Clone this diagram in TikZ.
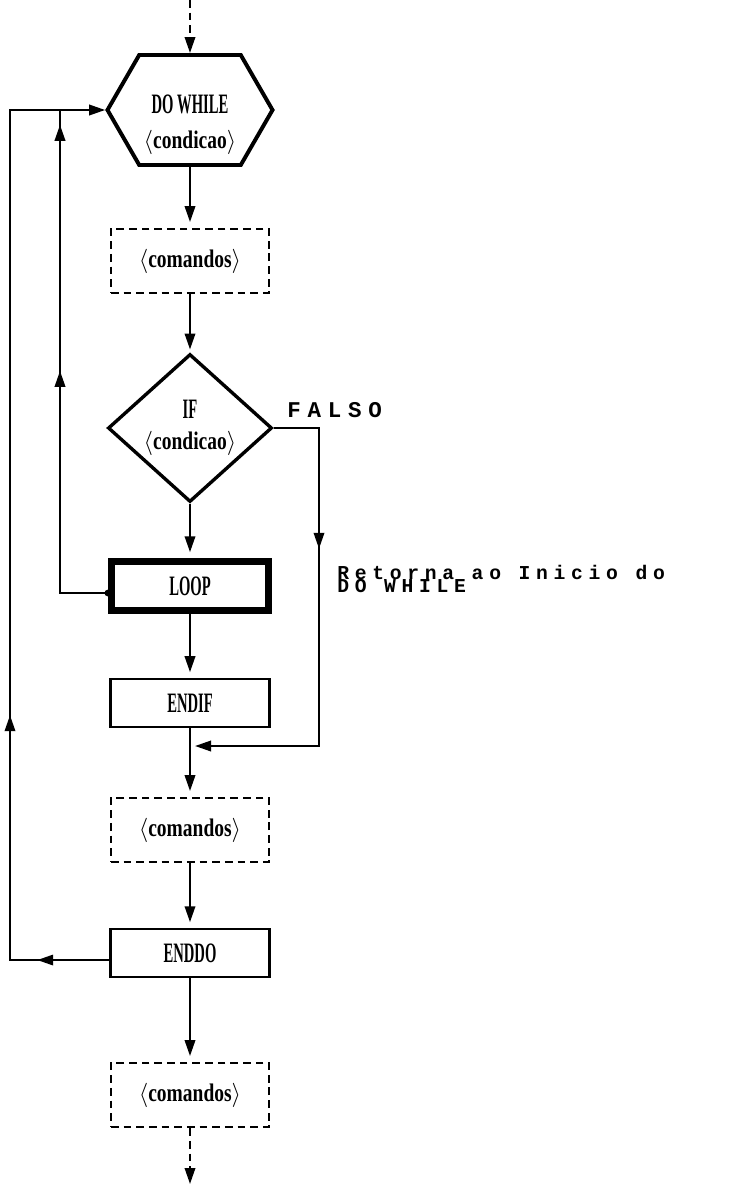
\documentclass[tikz,border=0pt]{standalone}
\usepackage{fontspec}
\usetikzlibrary{arrows.meta,positioning,shapes.geometric,shapes.symbols,decorations.markings}
\newfontfamily\capsfont[FakeStretch=0.52]{Liberation Serif}
\newfontfamily\lowfont[FakeStretch=0.77]{Liberation Serif}
\newfontfamily\dotfont{Liberation Mono}
\tikzset{
    flow/.style={line width=1.6pt},
    arrow/.style={-{Triangle[length=4mm,width=2.6mm]},line width=1.6pt},
    gaparrow/.style={arrow,shorten >=4pt},
    midarrow/.style={postaction={decorate,decoration={markings,mark=at position #1 with {\arrow{Triangle[length=4mm,width=2.6mm]}}}}},
    dashline/.style={dash pattern=on 5.5pt off 3.5pt},
    cmdbox/.style={draw,dashline,line width=1.8pt,minimum width=3.95cm,minimum height=1.6cm,inner sep=0pt,font=\lowfont\bfseries\fontsize{18}{22}\selectfont},
    endbox/.style={draw,line width=1.6pt,minimum width=3.98cm,minimum height=1.2cm,inner sep=0pt,font=\capsfont\bfseries\fontsize{20}{22}\selectfont},
    loopbox/.style={endbox,line width=5pt,minimum width=3.93cm,minimum height=1.23cm},
    hexbox/.style={signal,signal to=east and west,signal pointer angle=120,draw,line width=2.8pt,minimum width=4.125cm,minimum height=2.75cm,inner sep=0pt,align=center,font=\bfseries\fontsize{20}{25}\selectfont},
    ifbox/.style={diamond,draw,line width=2.4pt,minimum width=4.1cm,minimum height=3.5cm,inner sep=0pt,align=center,font=\bfseries\fontsize{20}{22}\selectfont},
    note/.style={font=\dotfont\bfseries\fontsize{16}{16}\selectfont,inner sep=0pt,anchor=base west},
    smallnote/.style={note,font=\dotfont\bfseries\fontsize{14}{14}\selectfont}
}

\begin{document}
\begin{tikzpicture}[x=0.025cm,y=-0.025cm]
    \useasboundingbox (0,0) rectangle (734,1184);

    % loop head and body
    \node[hexbox] (dowhile) at (190,110) {\rule{0pt}{34pt}{\capsfont DO WHILE}\\{\lowfont\fontsize{18}{25}\selectfont $\langle$condicao$\rangle$}};
    \node[cmdbox] (cmd1) at (190,261) {$\langle$comandos$\rangle$};
    \node[ifbox] (if) at (190,428) {{\capsfont IF}\\{\lowfont\fontsize{18}{22}\selectfont $\langle$condicao$\rangle$}};
    \node[loopbox] (loop) at (190,586) {LOOP};
    \node[endbox] (endif) at (190,703) {ENDIF};
    \node[cmdbox] (cmd2) at (190,830) {$\langle$comandos$\rangle$};
    \node[endbox] (enddo) at (190,953) {ENDDO};
    \node[cmdbox] (cmd3) at (190,1095) {$\langle$comandos$\rangle$};

    \coordinate (entry) at (190,0);
    \coordinate (exit) at (190,1184);
    \coordinate (outer) at (10,0);
    \coordinate (inner) at (60,0);
    \coordinate (falsex) at (319,0);
    \coordinate (merge) at (195,746);

    % main column
    \draw[arrow,dashline] (entry) -- (dowhile.north);
    \draw[gaparrow] (dowhile.south) -- (cmd1.north);
    \draw[arrow,shorten >=2pt] (cmd1.south) -- (if.north);
    \draw[gaparrow] (if.south) -- (loop.north);
    \draw[gaparrow] (loop.south) -- (endif.north);
    \draw[gaparrow] (endif.south) -- (cmd2.north);
    \draw[gaparrow] (cmd2.south) -- (enddo.north);
    \draw[gaparrow] (enddo.south) -- (cmd3.north);
    \draw[arrow,dashline] (cmd3.south) -- (exit);

    % false branch
    \draw[arrow,midarrow=4.15cm] (if.east) -| (falsex |- merge) -- (merge);
    \node[note] (falso) at (287,417) {\addfontfeature{LetterSpace=30}FALSO};

    % back to the head
    \draw[flow,midarrow=6.75cm,midarrow=12.9cm] ([yshift=-5pt]loop.west) -| (inner |- dowhile);
    \fill ([yshift=-5pt]loop.west) circle (2.4pt);
    \draw[arrow,midarrow=1.8cm,midarrow=8.6cm] ([yshift=-5pt]enddo.west) -| (outer |- dowhile) -- (dowhile.west);

    \node[smallnote] (retorna) at (337,579) {\addfontfeature{LetterSpace=29}Retorna ao Inicio do};
    \node[smallnote] (retornaB) at (337,592) {\addfontfeature{LetterSpace=29}DO WHILE};
\end{tikzpicture}
\end{document}
